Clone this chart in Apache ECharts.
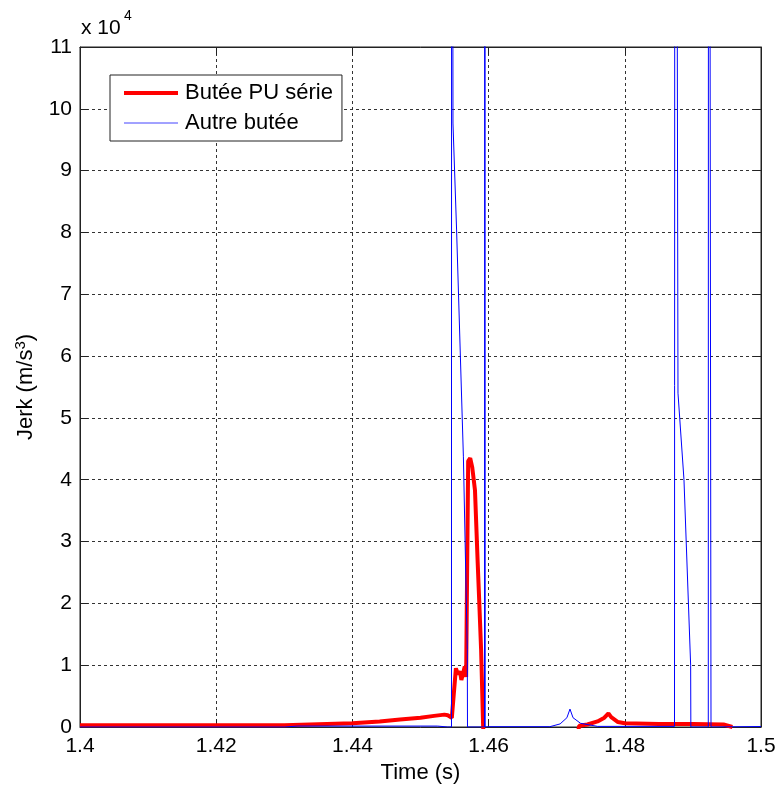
<!DOCTYPE html>
<html>
<head>
<meta charset="utf-8">
<script src="https://cdn.jsdelivr.net/npm/echarts@6/dist/echarts.min.js"></script>
<style>
html,body{margin:0;padding:0;background:#fff;overflow:hidden;width:775px;height:785px;}
#chart{width:775px;height:785px;}
</style>
</head>
<body>
<div id="chart"></div>
<script>
// Time (s)
const redTime = [1.4000, 1.4300, 1.4302, 1.4400, 1.4440, 1.4470, 1.4500, 1.4520, 1.4535, 1.4540, 1.4546,
  1.4552, 1.4555, 1.4558, 1.4560, 1.4565, 1.4567, 1.4570, 1.4573, 1.4576, 1.4580, 1.4584, 1.4586, 1.4589,
  1.4592, 1.4594, 1.4728, 1.4733, 1.4745, 1.4760, 1.4770, 1.4776, 1.4780, 1.4790, 1.4800, 1.4850, 1.4900,
  1.4945, 1.4958];
// Jerk (m/s^3) for "Butée PU série"
const redJerk = [300, 300, 500, 600, 900, 1200, 1500, 1800, 2000, 1900, 1500,
  9500, 8500, 9000, 7600, 9800, 8100, 43000, 43500, 42000, 38300, 26500, 21000, 12500,
  0, -3000, -3000, 200, 400, 900, 1500, 2200, 1600, 800, 600, 500, 500,
  400, 0];

const blueTime = [1.4000, 1.4300, 1.4320, 1.4525, 1.4540, 1.45455, 1.45458, 1.45477, 1.4553, 1.4563, 1.45687,
  1.4569, 1.4594, 1.45945, 1.4595, 1.4600, 1.4690, 1.4705, 1.4715, 1.47195, 1.4724, 1.4735, 1.4760,
  1.4873, 1.48737, 1.48781, 1.48869, 1.48967, 1.4897, 1.49226, 1.4923, 1.49266, 1.4927, 1.5000];
// Jerk (m/s^3) for "Autre butée"
const blueJerk = [0, 0, 150, 150, 0, 0, 300000, 97700, 80400, 43700, 12500,
  0, 0, 300000, 0, 50, 50, 500, 1500, 2900, 1500, 600, 100,
  100, 300000, 54000, 40000, 10000, 0, 0, 300000, 0, 80, 80];

const xTicks = [1.4, 1.42, 1.44, 1.46, 1.48, 1.5];
const yTicks = [0, 1, 2, 3, 4, 5, 6, 7, 8, 9, 10, 11]; // ×10^4

const FONT = "'Liberation Sans', Arial, sans-serif";

const pair = (t, v) => t.map((x, i) => [x, v[i]]);

const chart = echarts.init(document.getElementById('chart'), null, {renderer: 'canvas', width: 775, height: 785});

const gridLine = {show: true, lineStyle: {color: '#333', width: 1, type: [3, 3]}};

chart.setOption({
  animation: false,
  backgroundColor: '#fff',
  textStyle: {fontFamily: FONT},
  grid: {left: 80, right: 14, top: 47, bottom: 58, outerBoundsMode: 'none', containLabel: false,
    show: true, borderColor: '#222', borderWidth: 1, backgroundColor: 'transparent'},
  legend: {
    orient: 'vertical',
    left: 110, top: 75,
    padding: [6, 9, 6, 12],
    itemGap: 6,
    itemWidth: 54, itemHeight: 16,
    itemStyle: {opacity: 0},
    backgroundColor: '#fff',
    borderColor: '#222', borderWidth: 1, borderRadius: 0,
    textStyle: {fontFamily: FONT, fontSize: 22, color: '#000', lineHeight: 24, padding: [0, 0, 0, 2]},
    data: [
      {name: 'Butée PU série', lineStyle: {width: 4, color: '#ff0000'}},
      {name: 'Autre butée', lineStyle: {width: 1, color: '#4444ff'}}
    ]
  },
  graphic: [
    {type: 'text', left: 81, top: 18, style: {text: 'x 10', font: '21px ' + FONT, fill: '#000'}},
    {type: 'text', left: 124, top: 9, style: {text: '4', font: '14px ' + FONT, fill: '#000'}}
  ],
  xAxis: [{
    type: 'value', min: xTicks[0], max: xTicks[xTicks.length - 1], interval: 0.02,
    name: 'Time (s)', nameLocation: 'middle', nameGap: 34,
    nameTextStyle: {fontFamily: FONT, fontSize: 22, color: '#000'},
    axisLine: {show: true, onZero: false, lineStyle: {color: '#222'}},
    axisTick: {show: true, inside: true, length: 8, lineStyle: {color: '#222'}},
    axisLabel: {fontFamily: FONT, fontSize: 21, color: '#000', margin: 9,
      formatter: v => String(+v.toFixed(2))},
    splitLine: gridLine
  }, {
    type: 'value', position: 'top', min: xTicks[0], max: xTicks[xTicks.length - 1], interval: 0.02,
    axisLine: {show: true, onZero: false, lineStyle: {color: '#222'}},
    axisTick: {show: true, inside: true, length: 8, lineStyle: {color: '#222'}},
    axisLabel: {show: false}, splitLine: {show: false}
  }],
  yAxis: [{
    type: 'value', min: 0, max: 110000, interval: 10000,
    name: 'Jerk (m/s{sup|3})', nameLocation: 'middle', nameGap: 42, nameRotate: 90,
    nameTextStyle: {fontFamily: FONT, fontSize: 22, color: '#000',
      rich: {sup: {fontFamily: FONT, fontSize: 15, color: '#000', padding: [0, 0, 10, 0]}}},
    axisLine: {show: true, onZero: false, lineStyle: {color: '#222'}},
    axisTick: {show: true, inside: true, length: 8, lineStyle: {color: '#222'}},
    axisLabel: {fontFamily: FONT, fontSize: 21, color: '#000', margin: 8,
      formatter: v => String(yTicks[Math.round(v / 10000)])},
    splitLine: gridLine
  }, {
    type: 'value', position: 'right', min: 0, max: 110000, interval: 10000,
    axisLine: {show: true, onZero: false, lineStyle: {color: '#222'}},
    axisTick: {show: true, inside: true, length: 8, lineStyle: {color: '#222'}},
    axisLabel: {show: false}, splitLine: {show: false}
  }],
  series: [{
    name: 'Butée PU série', type: 'line', xAxisIndex: 0, yAxisIndex: 0,
    data: pair(redTime, redJerk), showSymbol: false, symbol: 'none', clip: true,
    lineStyle: {color: '#ff0000', width: 4}, itemStyle: {color: '#ff0000'}
  }, {
    name: 'Autre butée', type: 'line', xAxisIndex: 0, yAxisIndex: 0,
    data: pair(blueTime, blueJerk), showSymbol: false, symbol: 'none', clip: true,
    lineStyle: {color: '#0000ff', width: 1}, itemStyle: {color: '#0000ff'}
  }]
});
</script>
</body>
</html>
